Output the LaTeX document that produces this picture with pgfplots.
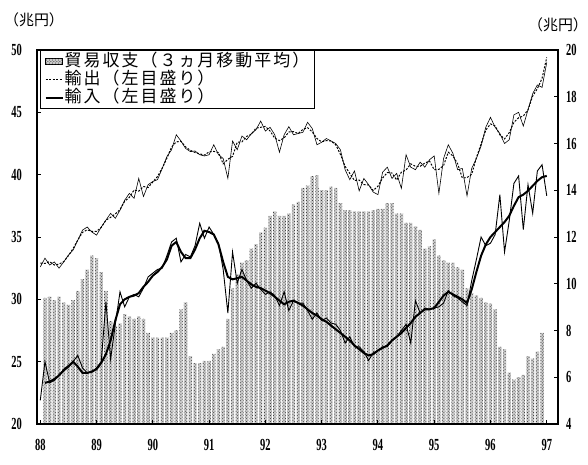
\documentclass[border=0pt]{standalone}
\usepackage{fontspec}
\setmainfont{Liberation Serif}
\newfontfamily\cjk{Noto Sans CJK JP}
\newfontfamily\cjkl[LetterSpace=12]{Noto Sans CJK JP}
\usepackage{pgfplots}
\pgfplotsset{compat=1.18}
\usepackage{pgfplotstable}
\usetikzlibrary{patterns}

\newcommand{\tl}[1]{\scalebox{0.62}[1]{\fontsize{17}{17}\selectfont\bfseries #1}}

\pgfplotstableread{
m v
1 9.4
2 9.45
3 9.3
4 9.45
5 9.2
6 9.1
7 9.3
8 9.7
9 10.2
10 10.6
11 11.2
12 11.1
13 10.5
14 9.7
15 8.4
16 8.2
17 8.3
18 8.7
19 8.6
20 8.5
21 8.6
22 8.5
23 7.9
24 7.7
25 7.7
26 7.7
27 7.7
28 7.9
29 8.0
30 8.9
31 9.2
32 6.9
33 6.6
34 6.6
35 6.7
36 6.7
37 7.0
38 7.2
39 7.3
40 8.5
41 9.8
42 10.4
43 10.9
44 11.0
45 11.5
46 11.7
47 12.2
48 12.4
49 12.9
50 13.1
51 12.9
52 12.9
53 13.0
54 13.4
55 13.5
56 14.1
57 14.2
58 14.6
59 14.65
60 14.0
61 14.0
62 14.15
63 14.1
64 13.45
65 13.15
66 13.15
67 13.1
68 13.1
69 13.1
70 13.1
71 13.15
72 13.2
73 13.2
74 13.45
75 13.45
76 13.0
77 13.0
78 12.6
79 12.6
80 12.45
81 12.3
82 11.5
83 11.6
84 11.9
85 11.2
86 11.0
87 10.9
88 10.9
89 10.7
90 10.6
91 9.8
92 9.6
93 9.5
94 9.4
95 9.2
96 9.15
97 8.9
98 7.3
99 7.2
100 6.2
101 5.9
102 6.0
103 6.1
104 6.9
105 6.8
106 7.1
107 7.9
}\bars

\pgfplotstableread{
m exp exps imp imps
0 32.6 32.9 21.9 nan
1 33.3 32.88 25.0 23.3
2 32.75 33.02 23.3 23.4
3 33.0 32.75 23.5 23.6
4 32.5 32.83 23.9 23.9
5 33.0 33.02 24.4 24.3
6 33.55 33.5 24.7 24.6
7 33.95 34.08 25.0 25.0
8 34.75 34.75 25.5 24.6
9 35.55 35.37 24.5 24.1
10 35.8 35.58 24.1 24.1
11 35.4 35.45 24.2 24.2
12 35.15 35.45 24.5 24.4
13 35.8 35.77 25.0 24.9
14 36.35 36.35 29.8 25.6
15 36.9 36.58 25.2 26.7
16 36.5 36.85 28.0 28.3
17 37.15 37.2 30.6 29.6
18 37.95 37.87 29.4 30.0
19 38.5 38.18 30.2 30.2
20 38.1 38.77 30.4 30.3
21 39.7 38.68 30.2 30.5
22 38.25 39.05 30.9 31.0
23 39.2 38.97 31.8 31.4
24 39.45 39.42 32.1 31.9
25 39.6 39.85 32.4 32.2
26 40.5 40.52 32.5 32.6
27 41.45 41.32 33.5 33.2
28 42.0 42.22 34.6 34.3
29 43.2 42.63 34.9 34.6
30 42.7 42.67 33.0 33.8
31 42.1 42.22 33.6 33.3
32 41.85 41.95 33.4 33.3
33 41.9 41.78 34.3 34.0
34 41.6 41.67 36.1 34.9
35 41.5 41.57 34.9 35.5
36 41.6 41.83 35.8 35.4
37 42.4 41.87 35.2 35.2
38 41.6 41.77 34.5 34.4
39 41.3 40.87 32.4 33.0
40 39.7 41.23 28.9 31.8
41 42.7 41.47 33.8 31.6
42 42.0 42.6 31.3 31.7
43 43.1 42.63 32.4 31.8
44 42.8 43.07 31.5 31.5
45 43.3 43.23 30.9 31.2
46 43.6 43.73 31.3 31.0
47 44.3 43.8 30.8 30.9
48 43.5 43.87 30.4 30.7
49 43.8 43.5 30.6 30.5
50 43.2 42.93 30.3 30.2
51 41.8 42.73 29.5 29.9
52 43.2 42.95 30.6 29.6
53 43.85 43.42 29.1 29.8
54 43.2 43.45 29.9 29.9
55 43.3 43.3 29.7 29.7
56 43.4 43.63 29.7 29.5
57 44.2 43.77 29.1 29.2
58 43.7 43.43 28.4 28.9
59 42.4 42.9 28.9 28.7
60 42.6 42.63 28.3 28.4
61 42.9 42.73 28.5 28.2
62 42.7 42.7 28.1 27.9
63 42.5 42.4 28.0 27.6
64 42.0 41.63 27.5 27.3
65 40.4 40.67 26.5 27.0
66 39.6 40.1 27.0 26.7
67 40.3 39.53 26.2 26.3
68 38.7 39.57 26.2 26.0
69 39.7 39.2 25.8 25.7
70 39.2 39.17 25.1 25.5
71 38.6 38.73 25.7 25.6
72 38.4 39.07 25.9 25.9
73 40.2 39.73 26.2 26.1
74 40.6 40.17 26.2 26.3
75 39.7 40.13 26.7 26.7
76 40.1 39.57 27.0 27.0
77 38.9 40.2 27.5 27.3
78 41.6 40.37 28.0 27.7
79 40.6 40.87 26.5 28.1
80 40.4 40.67 29.9 28.6
81 41.0 40.67 28.9 28.9
82 40.6 40.93 29.3 29.2
83 41.2 41.1 29.2 29.2
84 41.5 40.4 29.3 29.3
85 38.5 40.43 29.4 29.8
86 41.3 40.73 29.7 30.3
87 42.4 41.8 30.7 30.6
88 41.7 41.5 30.3 30.4
89 40.4 40.87 30.1 30.2
90 40.5 39.73 29.8 30.0
91 38.3 39.77 29.5 29.7
92 40.5 40.03 31.5 30.8
93 41.3 41.37 33.2 32.2
94 42.3 42.47 35.0 33.5
95 43.8 43.57 34.3 34.4
96 44.6 44.07 34.5 35.0
97 43.8 43.9 35.2 35.4
98 43.3 43.2 38.4 35.8
99 42.5 42.87 33.8 36.2
100 42.8 43.37 36.3 36.7
101 44.8 44.2 39.3 37.5
102 45.0 44.57 39.9 38.2
103 43.9 44.7 35.6 38.4
104 45.2 45.2 39.2 38.7
105 46.5 46.3 36.9 39.1
106 47.2 46.9 40.3 39.5
107 47.0 47.73 40.8 39.8
108 49.0 49.4 38.3 39.9
}\lines

\begin{document}
\begin{tikzpicture}
\useasboundingbox (-37bp,-41bp) rectangle (551bp,424bp);
% bars on the right-hand scale
\begin{axis}[
  scale only axis, width=521bp, height=374bp,
  xmin=-0.7, xmax=110.4, ymin=4, ymax=20,
  axis x line=none, axis y line*=right,
  axis line style={line width=1.4bp},
  ytick={4,6,...,20},
  yticklabels={\tl{4},\tl{6},\tl{8},\tl{10},\tl{12},\tl{14},\tl{16},\tl{18},\tl{20}},
  tick align=inside, major tick length=4bp,
  every tick/.style={black, line width=0.9bp},
  yticklabel style={inner sep=0pt, anchor=west, xshift=8bp},
  ybar, bar width=0.72,
]
\addplot[draw=none, fill=black!20, postaction={pattern=crosshatch dots, pattern color=black!85}] table[x=m, y=v] {\bars};
\end{axis}
% lines on the left-hand scale
\begin{axis}[
  scale only axis, width=521bp, height=374bp,
  xmin=-0.7, xmax=110.4, ymin=20, ymax=50,
  axis line style={line width=1.4bp},
  ytick={20,25,...,50},
  yticklabels={\tl{20},\tl{25},\tl{30},\tl{35},\tl{40},\tl{45},\tl{50}},
  xtick={0,12,...,108},
  xticklabels={\tl{88},\tl{89},\tl{90},\tl{91},\tl{92},\tl{93},\tl{94},\tl{95},\tl{96},\tl{97}},
  ytick pos=left, xtick pos=bottom,
  tick align=inside, major tick length=4bp,
  every tick/.style={black, line width=0.9bp},
  yticklabel style={inner sep=0pt, anchor=east, xshift=-15bp},
  xticklabel style={inner sep=0pt, anchor=north, yshift=-15bp},
  unbounded coords=jump,
  legend cell align=left,
  legend style={at={(0.006,1)}, anchor=north west, draw=black, line width=1.2bp,
    fill=white, inner xsep=4bp, inner ysep=2bp,
    font=\cjkl\fontsize{17}{19}\selectfont,
    nodes={inner sep=1bp, text height=13bp, text depth=3bp}},
]
\addlegendimage{area legend, draw=none, fill=black!20, postaction={pattern=crosshatch dots, pattern color=black!85}}
\addlegendentry{貿易収支（３ヵ月移動平均）}
\addplot[black, line width=0.6bp, forget plot] table[x=m, y=exp] {\lines};
\addplot[black, line width=1bp, dash pattern=on 2bp off 1.5bp] table[x=m, y=exps] {\lines};
\addlegendentry{輸出（左目盛り）}
\addplot[black, line width=0.9bp, forget plot] table[x=m, y=imp] {\lines};
\addplot[black, line width=2bp] table[x=m, y=imps] {\lines};
\addlegendentry{輸入（左目盛り）}
\end{axis}
\node[font=\cjk\fontsize{15}{15}\selectfont] at (-3bp,404bp) {（兆円）};
\node[font=\cjk\fontsize{15}{15}\selectfont] at (521bp,399bp) {（兆円）};
\end{tikzpicture}
\end{document}
